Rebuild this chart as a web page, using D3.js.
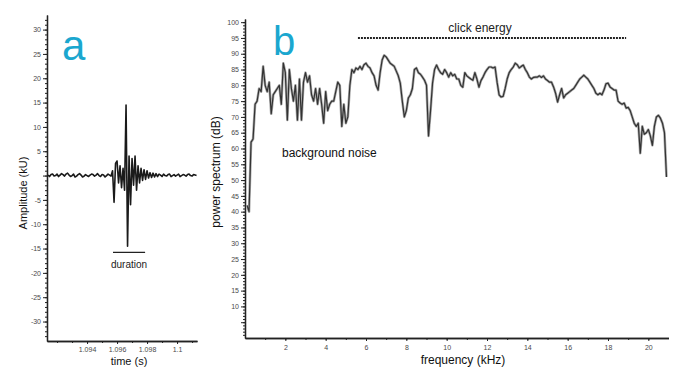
<!DOCTYPE html>
<html>
<head>
<meta charset="utf-8">
<script src="https://cdn.jsdelivr.net/npm/d3@7"></script>
<style>
  body { margin: 0; background: #fff; }
  svg { display: block; font-family: "Liberation Sans", Arial, sans-serif; }
  .tick text { fill: #4a4a4a; font-size: 7px; }
  .domain, .tick line { stroke: #222; }
</style>
</head>
<body>
<script>
// panel a: click waveform, sampled every 0.1 ms
const ampStart = 1.0914;
const ampStep = 0.0001;
const amplitude = [
  0.1, -0.2, 0.2, 0.3, -0.1, 0.0, 0.3, -0.2, 0.1, 0.4,
  0.2, -0.1, 0.3, 0.5, 0.1, -0.2, 0.0, 0.3, -0.3, -0.1,
  0.2, 0.4, 0.1, -0.3, -0.1, 0.2, 0.0, -0.2, 0.1, 0.3,
  0.2, -0.1, 0.1, 0.4, 0.0, -0.2, 0.2, 0.1, -0.3, 0.0,
  0.3, 0.1, -0.1,
  1.0, -5.5, 2.5, 3.0, -1.5, 2.0, -2.5, 1.5, -3.0, 14.5,
  -14.5, 4.0, -6.0, 3.5, -2.0, 4.0, -3.0, 2.0, -1.5, 1.5,
  -1.0, 1.2, -0.8, 1.0, -0.5, 0.6,
  -0.4, 0.5, -0.3, 0.4, -0.2, 0.3, 0.1, -0.2, 0.3, 0.0,
  -0.1, 0.2, 0.3, -0.2, 0.0, 0.2, -0.1, 0.1, 0.3, -0.2,
  0.0, 0.2, 0.1, -0.1, 0.2, 0.3, 0.0, -0.1, 0.2, 0.1,
  0.0
];
const ampTicks = [-30, -25, -20, -15, -10, -5, 0, 5, 10, 15, 20, 25, 30];
const timeTicks = [1.094, 1.096, 1.098, 1.1];
const durationSpan = [1.09573, 1.09787];

// panel b: power spectrum, every 0.1 kHz from 0.1 kHz
const freqStart = 0.1;
const freqStep = 0.1;
const powerDb = [
  42, 40, 62, 63, 74, 75, 79, 78, 86, 80,
  78, 81, 71, 77, 78, 79, 80, 74, 87, 84,
  69, 85, 79, 75, 80, 69, 82, 69, 81, 84,
  81, 83, 77, 75, 79, 74, 79, 74, 68, 78,
  72, 74, 75, 75, 78, 81, 80, 67, 74, 68,
  70, 80, 85, 84, 85.5, 85, 86, 85, 86.5, 87,
  86, 85.5, 84, 83, 80, 78.5, 84, 88, 89.5, 89,
  88, 87, 86.5, 86, 84.5, 83, 80.7, 75, 70, 72,
  76, 77, 79, 85, 85.5, 84, 83.5, 82.6, 81.6, 80,
  64, 72, 80.7, 85, 86.4, 85, 84, 83.5, 85, 84,
  82.6, 84, 83, 83.5, 82, 82, 80, 79.4, 84, 83,
  82.5, 82, 81.6, 84, 82, 79.4, 81.5, 82.6, 84, 85,
  85.8, 85.8, 85.5, 85.8, 81, 77, 76.3, 76.5, 79, 82,
  84, 85, 85.8, 87, 86.5, 85.5, 86, 86.4, 85, 84,
  82.6, 82, 82.5, 82.6, 82.6, 83, 82.5, 83, 82, 81.5,
  81, 81, 79.5, 77.5, 74.7, 77, 79, 76, 77, 77.5,
  78, 78.5, 79, 80, 81, 82, 82.6, 83.2, 82.6, 82,
  81, 80, 79, 77.5, 77, 77.5, 77, 78.5, 80.5, 80.7,
  79.5, 79, 78.5, 78.5, 75, 74.4, 74, 74.4, 72.8, 73,
  72, 70, 68, 67, 68, 58.5, 67, 64.5, 65, 66,
  64, 61, 67, 70, 70.5, 69.6, 68, 65, 51
];
const dbTicks = [10, 15, 20, 25, 30, 35, 40, 45, 50, 55, 60, 65, 70, 75, 80, 85, 90, 95, 100];
const freqTicks = [2, 4, 6, 8, 10, 12, 14, 16, 18, 20];
const clickEnergySpan = [5.6, 18.9];
const clickEnergyLevel = 95;

const svg = d3.select('body').append('svg')
  .attr('width', 676)
  .attr('height', 367);

const cyan = '#1ba7cf';

// ---------- panel a ----------
const axisAy = 341;
const xA = d3.scaleLinear().domain([1.09133, 1.10133]).range([47, 197]);
const yA = d3.scaleLinear().domain([-34, 33]).range([axisAy, 15]);

// minor ticks
svg.append('g')
  .attr('transform', 'translate(47,0)')
  .call(d3.axisLeft(yA).tickValues(d3.range(-33, 33, 1)).tickSize(2).tickFormat('').tickSizeOuter(0));
svg.append('g')
  .attr('transform', 'translate(47,0)')
  .call(d3.axisLeft(yA).tickValues(ampTicks).tickSize(4).tickPadding(2).tickSizeOuter(0)
    .tickFormat(d => d === 0 ? '' : d));

svg.append('g')
  .attr('transform', `translate(0,${axisAy})`)
  .call(d3.axisBottom(xA).tickValues(d3.range(1.092, 1.1013, 0.001)).tickSize(2).tickFormat('').tickSizeOuter(0));
svg.append('g')
  .attr('transform', `translate(0,${axisAy})`)
  .call(d3.axisBottom(xA).tickValues(timeTicks).tickSize(3).tickPadding(3).tickSizeOuter(0)
    .tickFormat(d => d3.format('.4~f')(d)));

svg.selectAll('.domain').attr('stroke-width', 1.3);

const lineA = d3.line()
  .x((d, i) => xA(ampStart + i * ampStep))
  .y(d => yA(d));

svg.append('path')
  .datum(amplitude)
  .attr('d', lineA)
  .attr('fill', 'none')
  .attr('stroke', '#1a1a1a')
  .attr('stroke-width', 1.6)
  .attr('stroke-linejoin', 'round');

// duration bar
svg.append('line')
  .attr('x1', xA(durationSpan[0])).attr('x2', xA(durationSpan[1]))
  .attr('y1', yA(-15.8)).attr('y2', yA(-15.8))
  .attr('stroke', '#222').attr('stroke-width', 1.3);
svg.append('text')
  .attr('x', xA((durationSpan[0] + durationSpan[1]) / 2)).attr('y', 268)
  .attr('text-anchor', 'middle').attr('font-size', 10).attr('fill', '#222')
  .text('duration');

svg.append('text')
  .attr('x', 129).attr('y', 365)
  .attr('text-anchor', 'middle').attr('font-size', 11).attr('fill', '#111')
  .text('time (s)');
svg.append('text')
  .attr('transform', 'translate(27,193) rotate(-90)')
  .attr('text-anchor', 'middle').attr('font-size', 11).attr('fill', '#111')
  .text('Amplitude (kU)');

svg.append('text')
  .attr('x', 62).attr('y', 60)
  .attr('font-size', 42).attr('fill', cyan)
  .text('a');

// ---------- panel b ----------
const xB = d3.scaleLinear().domain([0, 21]).range([245, 668.5]);
const yB = d3.scaleLinear().domain([0, 101]).range([338, 19]);

svg.append('g')
  .attr('transform', 'translate(245,0)')
  .call(d3.axisLeft(yB).tickValues(d3.range(1, 101, 1)).tickSize(2).tickFormat('').tickSizeOuter(0));
svg.append('g')
  .attr('transform', 'translate(245,0)')
  .call(d3.axisLeft(yB).tickValues([5].concat(dbTicks)).tickSize(4).tickPadding(2).tickSizeOuter(0)
    .tickFormat(d => d === 5 ? '' : d));

svg.append('g')
  .attr('transform', 'translate(0,338)')
  .call(d3.axisBottom(xB).tickValues(d3.range(1, 21, 1)).tickSize(2).tickFormat('').tickSizeOuter(0));
svg.append('g')
  .attr('transform', 'translate(0,338)')
  .call(d3.axisBottom(xB).tickValues(freqTicks).tickSize(3).tickPadding(4).tickSizeOuter(0));

svg.selectAll('.domain').attr('stroke-width', 1.3);

const lineB = d3.line()
  .x((d, i) => xB(freqStart + i * freqStep))
  .y(d => yB(d));

svg.append('path')
  .datum(powerDb)
  .attr('d', lineB)
  .attr('fill', 'none')
  .attr('stroke', '#aaa')
  .attr('stroke-width', 2.6)
  .attr('stroke-linejoin', 'round');
svg.append('path')
  .datum(powerDb)
  .attr('d', lineB)
  .attr('fill', 'none')
  .attr('stroke', '#333')
  .attr('stroke-width', 1.2)
  .attr('stroke-linejoin', 'round');

// click energy
svg.append('line')
  .attr('x1', xB(clickEnergySpan[0])).attr('x2', xB(clickEnergySpan[1]))
  .attr('y1', yB(clickEnergyLevel)).attr('y2', yB(clickEnergyLevel))
  .attr('stroke', '#222').attr('stroke-width', 2)
  .attr('stroke-dasharray', '2,1');
svg.append('text')
  .attr('x', 480).attr('y', 32)
  .attr('text-anchor', 'middle').attr('font-size', 12).attr('fill', '#222')
  .text('click energy');

svg.append('text')
  .attr('x', 282).attr('y', 157)
  .attr('font-size', 12).attr('fill', '#111')
  .text('background noise');

svg.append('text')
  .attr('x', 463).attr('y', 364)
  .attr('text-anchor', 'middle').attr('font-size', 12).attr('fill', '#111')
  .text('frequency (kHz)');
svg.append('text')
  .attr('transform', 'translate(220,172) rotate(-90)')
  .attr('text-anchor', 'middle').attr('font-size', 12).attr('fill', '#111')
  .text('power spectrum (dB)');

svg.append('text')
  .attr('x', 273).attr('y', 55)
  .attr('font-size', 40).attr('fill', cyan)
  .text('b');
</script>
</body>
</html>
